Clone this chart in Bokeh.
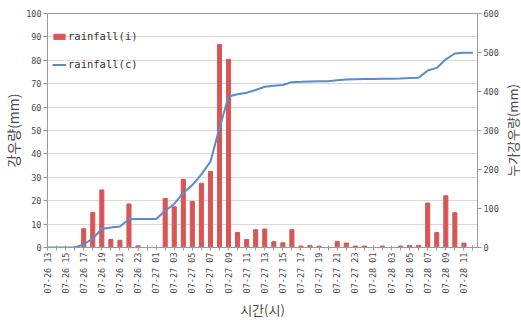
import math
from bokeh.plotting import figure
from bokeh.layouts import row
from bokeh.models import Range1d, LinearAxis, FixedTicker, ColumnDataSource
from bokeh.embed import file_html
from bokeh.resources import INLINE

categories = [
    "07-26 13", "07-26 14", "07-26 15", "07-26 16", "07-26 17", "07-26 18",
    "07-26 19", "07-26 20", "07-26 21", "07-26 22", "07-26 23", "07-27 00",
    "07-27 01", "07-27 02", "07-27 03", "07-27 04", "07-27 05", "07-27 06",
    "07-27 07", "07-27 08", "07-27 09", "07-27 10", "07-27 11", "07-27 12",
    "07-27 13", "07-27 14", "07-27 15", "07-27 16", "07-27 17", "07-27 18",
    "07-27 19", "07-27 20", "07-27 21", "07-27 22", "07-27 23", "07-28 00",
    "07-28 01", "07-28 02", "07-28 03", "07-28 04", "07-28 05", "07-28 06",
    "07-28 07", "07-28 08", "07-28 09", "07-28 10", "07-28 11", "07-28 12",
]

rainfall_i = [
    0, 0, 0, 0, 8, 15, 24.6, 3.4, 3.1, 18.6, 0.7, 0,
    0, 21, 17.4, 29.1, 19.7, 27.5, 32.5, 86.7, 80.4, 6.4, 3.4, 7.6,
    7.9, 2.5, 2.0, 7.6, 0.6, 0.9, 0.6, 0, 2.6, 1.9, 0.6, 0.6,
    0, 0.6, 0, 0.6, 0.9, 0.9, 19.0, 6.4, 22.1, 14.9, 1.9, 0,
]

rainfall_c = [
    0, 0, 0, 0, 8, 23, 47.5, 51, 54, 72.5, 73.3, 73.3,
    73.3, 94.3, 111.6, 140.6, 160.2, 187.6, 220, 306.5, 387, 393, 397, 404,
    412, 414.5, 416.5, 424, 424.7, 425.6, 426.3, 426.3, 429, 431, 431.6, 432.2,
    432.2, 432.8, 432.8, 433.4, 434.3, 435.2, 454, 460.5, 482.5, 497.5, 499.5, 499.5,
]

left_title = "강우량(mm)"
right_title = "누가강우량(mm)"
bottom_title = "시간(시)"

x_pos = list(range(len(categories)))
src = ColumnDataSource(dict(x=x_pos, ri=rainfall_i, rc=rainfall_c))

MONO = "DejaVu Sans Mono"
KR = "Noto Sans CJK KR"
TXT = "#4a4a4a"
AX = "#9a9a9a"

p = figure(width=501, height=323, output_backend="svg", toolbar_location=None,
           x_range=Range1d(0, 47.5), y_range=Range1d(0, 100),
           min_border_left=47, min_border_right=22, min_border_top=13,
           min_border_bottom=76)
p.extra_y_ranges = {"cum": Range1d(0, 600)}

p.vbar(x="x", top="ri", width=0.45, source=src, color="#d65656",
       legend_label="rainfall(i)")
p.line(x="x", y="rc", source=src, y_range_name="cum", color="#5b8bcb",
       line_width=2, legend_label="rainfall(c)")

p.outline_line_color = AX
p.xgrid.visible = False
p.ygrid.grid_line_color = "#c9aaaa"
p.ygrid.grid_line_dash = "1 1"
p.ygrid.ticker = FixedTicker(ticks=list(range(0, 101, 10)))

# left axis
ly = p.yaxis[0]
ly.ticker = FixedTicker(ticks=list(range(0, 101, 10)))
ly.axis_label = left_title
ly.axis_label_text_font = KR
ly.axis_label_text_font_size = "14px"
ly.axis_label_text_font_style = "normal"
ly.axis_label_text_color = TXT
ly.axis_label_standoff = 0
ly.major_label_text_font = MONO
ly.major_label_text_font_size = "8.5px"
ly.major_label_text_color = TXT
ly.major_label_standoff = 2
ly.axis_line_color = AX
ly.major_tick_line_color = AX
ly.major_tick_out = 4
ly.major_tick_in = 0
ly.minor_tick_line_color = None

# right axis
ry = LinearAxis(y_range_name="cum", ticker=FixedTicker(ticks=list(range(0, 601, 100))))
ry.major_label_text_font = MONO
ry.major_label_text_font_size = "8.5px"
ry.major_label_text_color = TXT
ry.major_label_standoff = 2
ry.axis_line_color = AX
ry.major_tick_line_color = AX
ry.major_tick_out = 4
ry.major_tick_in = 0
ry.minor_tick_line_color = None
p.add_layout(ry, "right")

# bottom axis
bx = p.xaxis[0]
even = [i for i in x_pos if i % 2 == 0]
odd = [i for i in x_pos if i % 2 == 1]
bx.ticker = FixedTicker(ticks=even, minor_ticks=odd)
bx.major_label_overrides = {i: categories[i] for i in even}
bx.major_label_orientation = math.pi / 2
bx.major_label_text_font = MONO
bx.major_label_text_font_size = "8.5px"
bx.major_label_text_color = TXT
bx.major_label_standoff = 2
bx.axis_label = bottom_title
bx.axis_label_text_font = KR
bx.axis_label_text_font_size = "13px"
bx.axis_label_text_font_style = "normal"
bx.axis_label_text_color = TXT
bx.axis_label_standoff = 4
bx.axis_line_color = AX
bx.major_tick_line_color = AX
bx.minor_tick_line_color = AX
bx.major_tick_out = 3
bx.major_tick_in = 2
bx.minor_tick_out = 3
bx.minor_tick_in = 2

lg = p.legend[0]
lg.location = (5, 175)
lg.margin = 0
lg.padding = 2
lg.border_line_color = None
lg.background_fill_alpha = 0
lg.label_text_font = MONO
lg.label_text_font_size = "10.5px"
lg.label_text_color = "#333333"
lg.glyph_width = 14
lg.glyph_height = 7
lg.label_height = 16
lg.spacing = 12
lg.label_standoff = 2

# narrow strip holding the right-hand title (reads bottom to top)
p2 = figure(width=20, height=323, output_backend="svg", toolbar_location=None,
            x_range=Range1d(0, 1), y_range=Range1d(0, 1),
            x_axis_location=None, y_axis_location="left",
            min_border_left=19, min_border_right=0, min_border_top=13,
            min_border_bottom=76)
p2.outline_line_color = None
p2.grid.visible = False
ta = p2.yaxis[0]
ta.ticker = FixedTicker(ticks=[])
ta.axis_line_color = None
ta.major_tick_line_color = None
ta.minor_tick_line_color = None
ta.major_tick_out = 0
ta.major_tick_in = 0
ta.minor_tick_out = 0
ta.minor_tick_in = 0
ta.major_label_standoff = 0
ta.axis_label = right_title
ta.axis_label_text_font = KR
ta.axis_label_text_font_size = "13px"
ta.axis_label_text_font_style = "normal"
ta.axis_label_text_color = TXT
ta.axis_label_standoff = 0

layout = row(p, p2)
open("out.html", "w").write(file_html(layout, INLINE))
